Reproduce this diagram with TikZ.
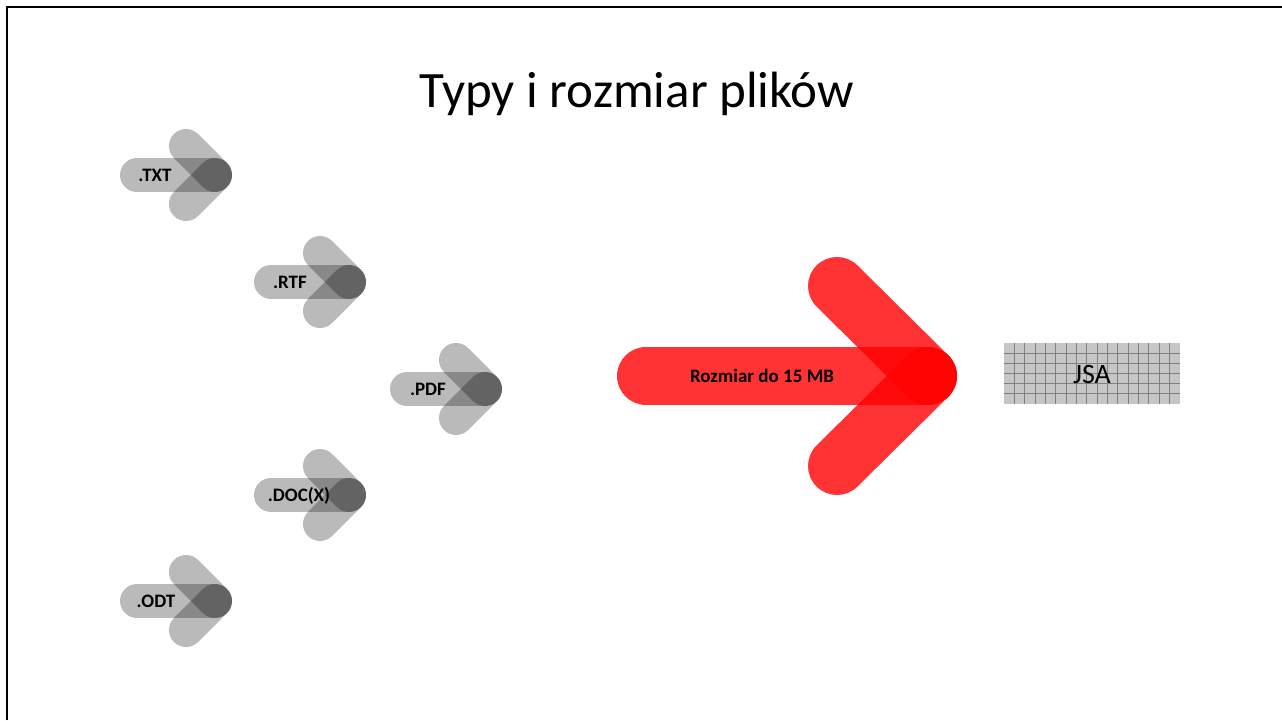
\documentclass[tikz,border=0pt]{standalone}
\usepackage{fontspec}
\setmainfont{Carlito}

\begin{document}
\begin{tikzpicture}[x=1pt, y=-1pt,
	every node/.style={inner sep=0pt, anchor=base},
	fileArrow/.style={line width=34pt, line cap=round, draw=black, draw opacity=0.27},
	sizeArrow/.style={line width=58pt, line cap=round, draw=red, draw opacity=0.8},
	fileLabel/.style={font=\fontsize{19}{22}\selectfont\bfseries},
	gridLine/.style={black!50, line width=1pt}]
				\useasboundingbox (0,0) rectangle (1282,720);
				% Frame
				\draw[line width=2.5pt] (7,720) -- (7,7) -- (1282,7);

				% Title
				\node (title) at (637,107) {\fontsize{51}{60}\selectfont Typy i rozmiar plików};

				% Arrow tips
				\coordinate (txt) at (215,175);
				\coordinate (rtf) at (349,282);
				\coordinate (pdf) at (485,389);
				\coordinate (docx) at (349,495);
				\coordinate (odt) at (215,601);
				\coordinate (size) at (928,376);

				% File arrows
				\draw[fileArrow] (txt) -- ++(-78,0);
				\draw[fileArrow] (txt) -- ++(-29,-29);
				\draw[fileArrow] (txt) -- ++(-29,29);
				\draw[fileArrow] (rtf) -- ++(-78,0);
				\draw[fileArrow] (rtf) -- ++(-29,-29);
				\draw[fileArrow] (rtf) -- ++(-29,29);
				\draw[fileArrow] (pdf) -- ++(-78,0);
				\draw[fileArrow] (pdf) -- ++(-29,-29);
				\draw[fileArrow] (pdf) -- ++(-29,29);
				\draw[fileArrow] (docx) -- ++(-78,0);
				\draw[fileArrow] (docx) -- ++(-29,-29);
				\draw[fileArrow] (docx) -- ++(-29,29);
				\draw[fileArrow] (odt) -- ++(-78,0);
				\draw[fileArrow] (odt) -- ++(-29,-29);
				\draw[fileArrow] (odt) -- ++(-29,29);

				% Size arrow
				\draw[sizeArrow] (size) -- ++(-282,0);
				\draw[sizeArrow] (size) -- ++(-91,-90);
				\draw[sizeArrow] (size) -- ++(-91,90);

				% Labels
				\node[fileLabel] (txtlabel) at (155,181) {.TXT};
				\node[fileLabel] (rtflabel) at (290,288) {.RTF};
				\node[fileLabel] (pdflabel) at (428,395) {.PDF};
				\node[fileLabel] (docxlabel) at (299,501) {.DOC(X)};
				\node[fileLabel] (odtlabel) at (156,607) {.ODT};
				\node[fileLabel] (sizelabel) at (762,382) {Rozmiar do 15 MB};

				% JSA box
				\fill[gray!45] (1004,343) rectangle (1180,404);
				\foreach \i in {1,...,16}
					\draw[gridLine] (1004+10.353*\i,343) -- (1004+10.353*\i,404);
				\foreach \j in {1,...,5}
					\draw[gridLine] (1004,343+10.167*\j) -- (1180,343+10.167*\j);
				\node (jsa) at (1092,383) {\fontsize{28}{32}\selectfont JSA};
			\end{tikzpicture}
\end{document}
